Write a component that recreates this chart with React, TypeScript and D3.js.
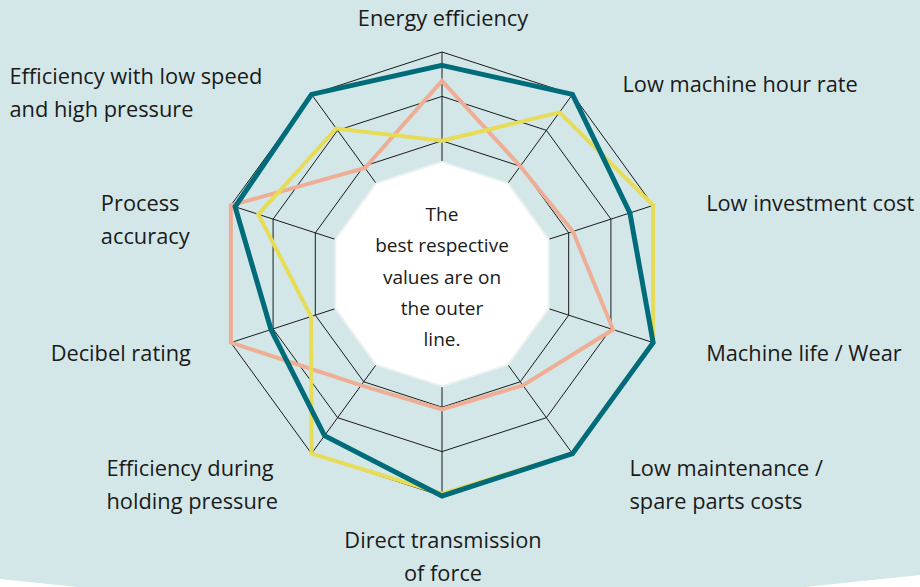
import { useEffect, useRef } from 'react'
import * as d3 from 'd3'

const axes = [
  'Energy efficiency',
  'Low machine hour rate',
  'Low investment cost',
  'Machine life / Wear',
  'Low maintenance /\nspare parts costs',
  'Direct transmission\nof force',
  'Efficiency during\nholding pressure',
  'Decibel rating',
  'Process\naccuracy',
  'Efficiency with low speed\nand high pressure',
]

const seriesBlue = [94, 100, 89, 100, 100, 100, 90, 81, 98, 100]
const seriesPink = [87, 60, 62, 81, 62, 61, 62, 100, 100, 59]
const seriesYellow = [60, 90, 100, 100, 100, 99, 100, 62, 87, 81]

const ringLevels = [20, 40, 60, 80, 100]
const centerNote = ['The', 'best respective', 'values are on', 'the outer', 'line.']

// label placement relative to the outer vertex of each axis
const labelLayout: { dx: number; dy: number; anchor: string }[] = [
  { dx: 1, dy: -35, anchor: 'middle' },
  { dx: 50, dy: -11, anchor: 'start' },
  { dx: 53, dy: -3, anchor: 'start' },
  { dx: 53, dy: 9, anchor: 'start' },
  { dx: 57, dy: 13, anchor: 'start' },
  { dx: 1, dy: 43, anchor: 'middle' },
  { dx: -205, dy: 13, anchor: 'start' },
  { dx: -40, dy: 9, anchor: 'end' },
  { dx: -130, dy: -3, anchor: 'start' },
  { dx: -302, dy: -19, anchor: 'start' },
]

const W = 920
const H = 587

export default function App() {
  const svgRef = useRef<SVGSVGElement>(null)

  useEffect(() => {
    if (!svgRef.current) return
    const svg = d3.select(svgRef.current)
    svg.selectAll('*').remove()

    const cx = 442
    const cy = 274
    const r = d3.scaleLinear().domain([0, 100]).range([0, 222])
    const n = axes.length
    const angle = d3.scaleLinear().domain([0, n]).range([0, 2 * Math.PI])

    const pt = (i: number, v: number): [number, number] => {
      const a = angle(i)
      return [cx + r(v) * Math.sin(a), cy - r(v) * Math.cos(a)]
    }

    // Background panel
    svg.append('polygon')
      .attr('points', [[0, 0], [W, 0], [W, 575], [443, 625], [0, 579]].map((p) => p.join(',')).join(' '))
      .attr('fill', '#d4e7e8')

    const g = svg.append('g')

    // Grid rings
    for (const level of ringLevels) {
      const pts = d3.range(n).map((i) => pt(i, level))
      g.append('polygon')
        .attr('points', pts.map((p) => p.join(',')).join(' '))
        .attr('fill', 'none')
        .attr('stroke', '#1a1a1a')
        .attr('stroke-width', 1)
    }

    // Spokes
    for (let i = 0; i < n; i++) {
      const [x2, y2] = pt(i, 100)
      g.append('line')
        .attr('x1', cx).attr('y1', cy)
        .attr('x2', x2).attr('y2', y2)
        .attr('stroke', '#1a1a1a')
        .attr('stroke-width', 1)
    }

    // White centre
    g.append('polygon')
      .attr('points', d3.range(n).map((i) => pt(i, 50.5).join(',')).join(' '))
      .attr('fill', '#ffffff')
      .attr('stroke', '#eef1f1')
      .attr('stroke-width', 2)

    // Series
    const radial = d3.lineRadial<number>()
      .angle((_, i) => angle(i))
      .radius((d) => r(d))
      .curve(d3.curveLinearClosed)

    const series = [
      { values: seriesPink, color: '#eeae95', width: 4 },
      { values: seriesYellow, color: '#e7dc55', width: 4 },
      { values: seriesBlue, color: '#006c7a', width: 5 },
    ]
    for (const s of series) {
      g.append('path')
        .attr('transform', `translate(${cx},${cy})`)
        .attr('d', radial(s.values))
        .attr('fill', 'none')
        .attr('stroke', s.color)
        .attr('stroke-width', s.width)
        .attr('stroke-linejoin', 'miter')
    }

    // Axis labels
    const font = '"Open Sans", sans-serif'
    axes.forEach((label, i) => {
      const [x, y] = pt(i, 100)
      const lay = labelLayout[i]
      const lines = label.split('\n')
      const t = svg.append('text')
        .attr('x', x + lay.dx)
        .attr('y', y + lay.dy)
        .attr('text-anchor', lay.anchor)
        .attr('dominant-baseline', 'central')
        .attr('font-family', font)
        .attr('font-size', 21.8)
        .attr('fill', '#1a1a1a')
      lines.forEach((ln, k) => {
        t.append('tspan').attr('x', x + lay.dx).attr('dy', k === 0 ? 0 : 33).text(ln)
      })
    })

    // Centre note
    const note = svg.append('text')
      .attr('x', cx)
      .attr('y', 214)
      .attr('text-anchor', 'middle')
      .attr('dominant-baseline', 'central')
      .attr('font-family', font)
      .attr('font-size', 19)
      .attr('fill', '#1a1a1a')
    centerNote.forEach((ln, k) => {
      note.append('tspan').attr('x', cx).attr('dy', k === 0 ? 0 : 31.3).text(ln)
    })
  }, [])

  return (
    <div style={{ position: 'fixed', left: 0, top: 0, width: W, height: H, background: '#fff' }}>
      <svg ref={svgRef} width={W} height={H} />
    </div>
  )
}
